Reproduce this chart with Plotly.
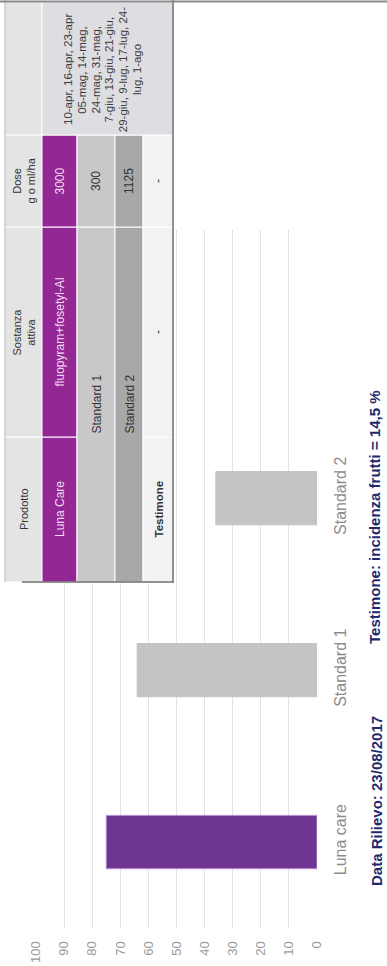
import plotly.graph_objects as go

# ---------------- data ----------------
categories = ["Luna care", "Standard 1", "Standard 2"]
efficacy = [75, 64, 36]
bar_colors = ["#6f3592", "#c4c4c4", "#c4c4c4"]
bar_edge_colors = ["#b68fce", "#c4c4c4", "#c4c4c4"]
value_ticks = [0, 10, 20, 30, 40, 50, 60, 70, 80, 90, 100]

table_headers = ["Prodotto", "Sostanza<br>attiva", "Dose<br>g o ml/ha"]
table_products = ["Luna Care", "Standard 1", "Standard 2", "Testimone"]
table_substances = ["fluopyram+fosetyl-Al", "", "", "-"]
table_doses = ["3000", "300", "1125", "-"]
application_dates = [
    "10-apr, 16-apr, 23-apr",
    "05-mag, 14-mag,",
    "24-mag, 31-mag,",
    "7-giu, 13-giu, 21-giu,",
    "29-giu, 9-lug, 17-lug, 24-",
    "lug, 1-ago",
]
note_date = "Data Rilievo: 23/08/2017"
note_control = "Testimone: incidenza frutti = 14,5 %"

# ---------------- layout geometry (pixels of the 387x966 page) ----------------
W, H = 387, 966
L, R, T, B = 36, 317, 230, 928
FONT = "Liberation Sans, Arial, sans-serif"


def px(x):
    return (x - L) / (R - L)


def py(y):
    return (B - y) / (B - T)


fig = go.Figure(
    go.Bar(
        y=categories,
        x=efficacy,
        orientation="h",
        width=0.31,
        marker=dict(color=bar_colors, line=dict(color=bar_edge_colors, width=1)),
        hoverinfo="skip",
    )
)

shapes = []
annotations = []


def rect(x0, y0, x1, y1, fill, line="white", lw=1):
    shapes.append(dict(type="rect", xref="paper", yref="paper",
                       x0=px(x0), x1=px(x1), y0=py(y1), y1=py(y0),
                       fillcolor=fill, line=dict(color=line, width=lw), layer="above"))


def hline(x0, x1, y, color, lw):
    shapes.append(dict(type="line", xref="paper", yref="paper",
                       x0=px(x0), x1=px(x1), y0=py(y), y1=py(y),
                       line=dict(color=color, width=lw), layer="above"))


def vline(x, y0, y1, color, lw):
    shapes.append(dict(type="line", xref="paper", yref="paper",
                       x0=px(x), x1=px(x), y0=py(y0), y1=py(y1),
                       line=dict(color=color, width=lw), layer="above"))


def text(cx, cy, s, size, color, bold=False):
    if bold:
        s = "<b>" + s + "</b>"
    annotations.append(dict(xref="paper", yref="paper", x=px(cx), y=py(cy),
                            text=s, showarrow=False, textangle=-90,
                            xanchor="center", yanchor="middle",
                            font=dict(family=FONT, size=size, color=color)))


# table geometry (rotated): rows are x-bands, columns are y-bands
row_x = [5, 42, 77, 115, 143, 173]
col_prod = (437, 582)
col_sost = (227, 437)
col_dose = (135, 227)
col_dates = (2, 135)

header_bg = "#e4e4e4"
row_bg = ["#932793", "#c8c8c8", "#a8a8a8", "#f2f2f2"]
row_fg = ["#f6dcf4", "#333333", "#333333", "#333333"]
dates_bg = "#dedee2"

# background of the whole table
rect(row_x[0], 2, row_x[-1], 582, header_bg, line=header_bg, lw=0)

# header row
hx0, hx1 = row_x[0], row_x[1]
for (y0, y1), h in zip([col_prod, col_sost, col_dose], table_headers):
    rect(hx0, y0, hx1, y1, header_bg)
    text((hx0 + hx1) / 2, (y0 + y1) / 2, h, 11, "#333333")
rect(hx0, col_dates[0], hx1, col_dates[1], header_bg)

# data rows
for i in range(4):
    x0, x1 = row_x[i + 1], row_x[i + 2]
    cx = (x0 + x1) / 2
    if table_substances[i]:
        rect(x0, col_prod[0], x1, col_prod[1], row_bg[i])
        rect(x0, col_sost[0], x1, col_sost[1], row_bg[i])
        text(cx, sum(col_prod) / 2, table_products[i], 11.5 if i else 12,
             row_fg[i], bold=(i == 3))
        text(cx, sum(col_sost) / 2, table_substances[i], 12, row_fg[i])
    else:
        rect(x0, col_sost[0], x1, col_prod[1], row_bg[i])
        text(cx, (col_sost[0] + col_prod[1]) / 2, table_products[i], 12, row_fg[i])
    rect(x0, col_dose[0], x1, col_dose[1], row_bg[i])
    text(cx, sum(col_dose) / 2, table_doses[i], 12, row_fg[i])

# merged dates cell
rect(row_x[1], col_dates[0], row_x[-1], col_dates[1], dates_bg)
for k, line in enumerate(application_dates):
    text(68 + k * 13.8, 70, line, 11.5, "#3c3c3c")

# table frame
vline(row_x[-1], 0, 583, "#6e6e6e", 1.5)
hline(22, row_x[-1], 582, "#6e6e6e", 1.5)
vline(row_x[0], 0, 582, "#b0b0b0", 1)
hline(0, W, 1.5, "#8a8a8a", 2)

# notes below chart
text(376, 801, note_date, 15, "#1f2a6e", bold=True)
text(374, 517, note_control, 15, "#1f2a6e", bold=True)

fig.update_layout(
    width=W, height=H,
    margin=dict(l=L, r=W - R, t=T, b=H - B, pad=0),
    paper_bgcolor="white", plot_bgcolor="white",
    showlegend=False,
    bargap=0.69,
    xaxis=dict(range=[100, 0], tickvals=value_ticks, tickangle=-90,
               showgrid=True, gridcolor="#e2e2e2", gridwidth=1,
               zeroline=False, showline=False, automargin=False,
               ticks="outside", ticklen=7, tickcolor="rgba(0,0,0,0)",
               tickfont=dict(family=FONT, size=13, color="#9a9a9a")),
    yaxis=dict(type="category", range=[-0.5, 3.56], side="right", tickangle=-90,
               showgrid=False, zeroline=False, showline=False, automargin=False,
               ticks="outside", ticklen=9, tickcolor="rgba(0,0,0,0)",
               tickfont=dict(family=FONT, size=16, color="#8c8c8c")),
    shapes=shapes,
    annotations=annotations,
)

fig.write_html(
    "out.html",
    config={"displayModeBar": False},
    post_script="document.body.style.margin='0';document.body.style.overflow='hidden';",
)
